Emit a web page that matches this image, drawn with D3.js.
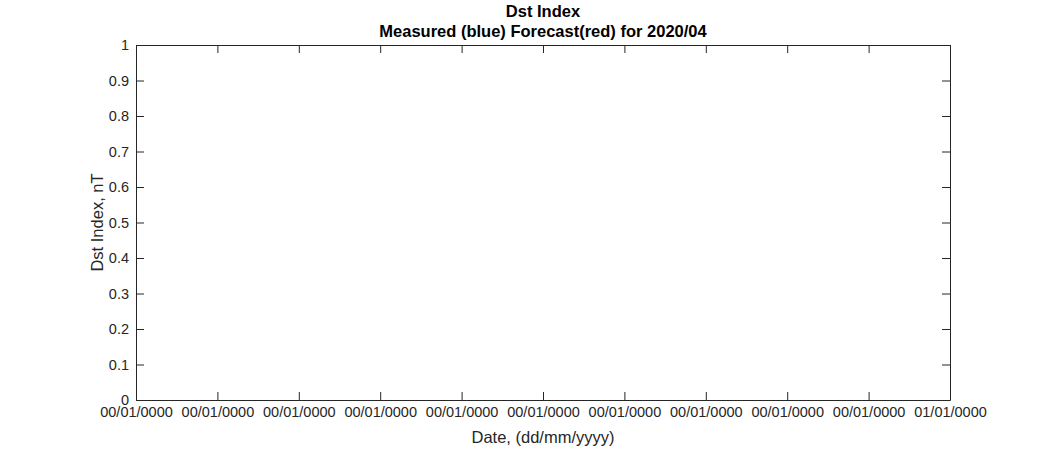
<!DOCTYPE html>
<html>
<head>
<meta charset="utf-8">
<script src="https://cdn.jsdelivr.net/npm/d3@7"></script>
<style>
  html, body { margin: 0; padding: 0; background: #fff; }
  svg { display: block; font-family: "Liberation Sans", Arial, Helvetica, sans-serif; }
</style>
</head>
<body>
<svg id="chart" width="1050" height="450"></svg>
<script>
// ---- data ----
const titleLines = ["Dst Index", "Measured (blue) Forecast(red) for 2020/04"];
const xLabel = "Date, (dd/mm/yyyy)";
const yLabel = "Dst Index, nT";
const xTickLabels = ["00/01/0000","00/01/0000","00/01/0000","00/01/0000","00/01/0000","00/01/0000","00/01/0000","00/01/0000","00/01/0000","00/01/0000","01/01/0000"];
const yTicks = [0,0.1,0.2,0.3,0.4,0.5,0.6,0.7,0.8,0.9,1];
const measured = [];   // blue series (empty in reference)
const forecast = [];   // red series (empty in reference)

// ---- layout ----
const svg = d3.select("#chart");
const m = { left: 136, right: 950, top: 45, bottom: 400 };
const tickLen = 8;
const axisColor = "#262626";

const x = d3.scaleLinear().domain([0, xTickLabels.length - 1]).range([m.left, m.right]);
const y = d3.scaleLinear().domain([0, 1]).range([m.bottom, m.top]);

const xAxis = d3.axisBottom(x)
  .tickValues(d3.range(xTickLabels.length))
  .tickFormat(i => xTickLabels[i])
  .tickSizeInner(-tickLen).tickSizeOuter(0).tickPadding(7);
const gx = svg.append("g").attr("transform", `translate(0,${m.bottom})`).call(xAxis);

const gxt = svg.append("g").attr("transform", `translate(0,${m.top})`)
  .call(d3.axisTop(x).tickValues(d3.range(xTickLabels.length)).tickFormat("")
  .tickSizeInner(-tickLen).tickSizeOuter(0));

const yAxis = d3.axisLeft(y).tickValues(yTicks).tickFormat(d3.format("~g"))
  .tickSizeInner(-tickLen).tickSizeOuter(0).tickPadding(7);
const gy = svg.append("g").attr("transform", `translate(${m.left},0)`).call(yAxis);

const gyr = svg.append("g").attr("transform", `translate(${m.right},0)`)
  .call(d3.axisRight(y).tickValues(yTicks).tickFormat("")
  .tickSizeInner(-tickLen).tickSizeOuter(0));

[gx, gxt, gy, gyr].forEach(g => {
  g.selectAll("path.domain").attr("stroke", axisColor).attr("stroke-width", 1);
  g.selectAll(".tick line").attr("stroke", axisColor).attr("stroke-width", 1);
  g.selectAll(".tick text").attr("fill", "#262626").style("font-size", "14.5px")
   .style("font-family", '"Liberation Sans", Arial, Helvetica, sans-serif');
});
gx.selectAll(".tick text").attr("dy", "0.71em");

const line = d3.line().x((d, i) => x(i)).y(d => y(d));
svg.append("path").datum(measured).attr("d", line).attr("fill", "none").attr("stroke", "blue");
svg.append("path").datum(forecast).attr("d", line).attr("fill", "none").attr("stroke", "red");

const cx = (m.left + m.right) / 2;
svg.append("text").attr("x", cx).attr("y", 17).attr("text-anchor", "middle")
  .style("font-size", "16.5px").style("font-weight", "bold").attr("fill", "#000").text(titleLines[0]);
svg.append("text").attr("x", cx).attr("y", 37).attr("text-anchor", "middle")
  .style("font-size", "16.5px").style("font-weight", "bold").attr("fill", "#000").text(titleLines[1]);

svg.append("text").attr("x", cx).attr("y", 443).attr("text-anchor", "middle")
  .style("font-size", "16.5px").attr("fill", "#262626").text(xLabel);
svg.append("text").attr("transform", `translate(103,${(m.top + m.bottom) / 2}) rotate(-90)`)
  .attr("text-anchor", "middle").style("font-size", "16.5px").attr("fill", "#262626").text(yLabel);
</script>
</body>
</html>
